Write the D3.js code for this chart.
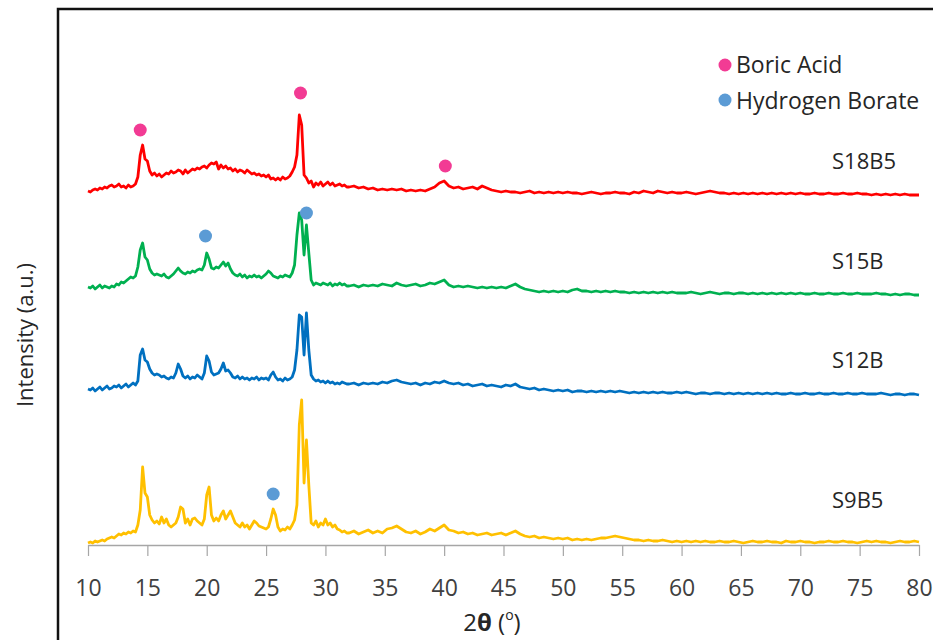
<!DOCTYPE html>
<html>
<head>
<meta charset="utf-8">
<script src="https://cdn.jsdelivr.net/npm/d3@7"></script>
<style>
    body { margin: 0; background: #fff; }
    svg { display: block; font-family: "Open Sans", "Noto Sans", sans-serif; }
</style>
</head>
<body>
<svg></svg>
<script>
    // 2theta sampling: 0.2 deg steps up to 31.8, then 0.4 deg steps to 80
    var lowAngle = d3.range(110).map(function (i) { return 10 + i * 0.2; });
    var highAngle = d3.range(121).map(function (i) { return 32 + i * 0.4; });
    var twoTheta = lowAngle.concat(highAngle);

    var xTicks = [10, 15, 20, 25, 30, 35, 40, 45, 50, 55, 60, 65, 70, 75, 80];
    var sampleNames = ["S9B5", "S12B", "S15B", "S18B5"];
    var sampleOffsets = [0, 150, 250, 350];
    var sampleColors = ["#FFC000", "#0070C0", "#00B050", "#FF0000"];

    var s9b5 = [
        2, 3, 2, 4, 3,   4, 5, 4, 6, 7,   8, 7, 9, 11, 10,   12, 11, 13, 12, 14,
        13, 20, 35, 78, 52,   48, 30, 25, 22, 24,   21, 28, 22, 26, 20,   18, 20, 22, 28, 38,
        36, 22, 26, 20, 26,   27, 24, 22, 20, 26,   50, 58, 30, 24, 27,   24, 30, 34, 26, 30,
        34, 28, 22, 20, 18,   22, 18, 20, 16, 20,   24, 22, 19, 18, 17,   16, 18, 26, 36, 30,
        18, 14, 16, 15, 18,   16, 20, 25, 40, 120,  145, 62, 105, 60, 22,  20, 24, 18, 22, 20,
        26, 20, 22, 18, 20,   16, 15, 13, 14, 12,
        12, 14, 11, 13, 15,   12, 14, 12, 16, 17,   19, 16, 13, 12, 14,   11, 13, 16, 14, 17,
        20, 15, 14, 12, 13,   11, 12, 10, 11, 12,   10, 11, 12, 10, 12,   14, 11, 9, 8, 9,
        7, 8, 7, 6, 7,   6, 7, 5, 6, 5,   6, 5, 6, 7, 7,   8, 9, 8, 7, 6,
        5, 5, 4, 5, 4,   4, 5, 4, 3, 4,   3, 4, 3, 4, 3,   4, 3, 3, 4, 3,
        3, 4, 3, 2, 3,   4, 3, 3, 4, 3,   3, 2, 4, 3, 3,   4, 3, 3, 2, 3,
        3, 4, 3, 3, 4,   3, 3, 2, 3, 4,   3, 4, 3, 3, 2,   3, 4, 3, 3, 4,
        3
    ];
    var s12b = [
        6, 5, 7, 4, 6,   8, 5, 7, 9, 6,   7, 9, 8, 10, 7,   9, 11, 8, 10, 12,
        10, 14, 40, 46, 35,   33, 26, 22, 20, 21,   20, 18, 19, 17, 16,   18, 17, 22, 31, 26,
        19, 17, 19, 16, 18,   17, 20, 18, 16, 22,   39, 34, 23, 20, 21,   22, 26, 32, 24, 25,
        22, 18, 17, 19, 16,   18, 16, 17, 15, 17,   16, 18, 15, 17, 16,   17, 15, 20, 23, 18,
        15, 16, 14, 17, 15,   16, 18, 25, 45, 80,   78, 40, 82, 45, 20,   16, 14, 15, 13, 14,
        12, 14, 12, 13, 11,   12, 11, 13, 12, 11,
        11, 12, 10, 12, 11,   12, 11, 13, 12, 14,   15, 13, 12, 11, 12,   10, 12, 11, 13, 12,
        14, 12, 11, 12, 10,   11, 9, 10, 11, 9,   10, 9, 8, 10, 9,   11, 8, 7, 6, 7,
        5, 6, 5, 4, 5,   4, 5, 3, 4, 4,   3, 4, 3, 4, 3,   4, 3, 4, 3, 2,
        3, 2, 3, 2, 3,   2, 3, 2, 2, 3,   2, 3, 2, 1, 2,   2, 1, 2, 2, 1,
        2, 1, 2, 1, 2,   1, 2, 1, 2, 1,   2, 1, 1, 2, 1,   1, 2, 1, 1, 2,
        1, 1, 2, 1, 1,   2, 1, 1, 2, 1,   1, 1, 2, 1, 0,   1, 1, 0, 1, 1,
        0
    ];
    var s15b = [
        8, 7, 9, 6, 8,   10, 7, 9, 8, 7,   9, 8, 11, 10, 13,   12, 14, 16, 18, 17,
        19, 28, 45, 52, 38,   35, 26, 22, 20, 21,   20, 19, 21, 18, 17,   19, 21, 24, 27, 24,
        22, 21, 23, 22, 24,   23, 25, 26, 25, 30,   42, 36, 27, 26, 28,   27, 30, 33, 29, 32,
        26, 22, 20, 19, 21,   18, 20, 17, 19, 18,   20, 18, 19, 17, 19,   21, 24, 22, 19, 18,
        17, 19, 18, 20, 19,   18, 22, 30, 60, 82,   75, 40, 70, 42, 15,   10, 12, 11, 10, 12,
        11, 10, 12, 9, 11,   10, 12, 10, 11, 9,
        9, 10, 8, 10, 9,   10, 9, 11, 10, 9,   12, 10, 9, 10, 11,   9, 10, 12, 11, 13,
        15, 10, 8, 9, 8,   9, 8, 7, 8, 7,   8, 7, 8, 7, 9,   11, 8, 6, 5, 4,
        3, 4, 3, 4, 3,   4, 3, 5, 6, 4,   4, 3, 4, 3, 4,   3, 4, 3, 3, 2,
        3, 2, 3, 2, 3,   2, 3, 2, 3, 2,   2, 2, 3, 2, 1,   2, 3, 2, 1, 2,
        2, 1, 2, 2, 1,   2, 1, 2, 1, 2,   1, 2, 1, 2, 1,   2, 1, 1, 2, 1,
        1, 2, 1, 1, 2,   1, 1, 2, 1, 1,   1, 2, 1, 1, 0,   1, 0, 1, 1, 0,
        0
    ];
    var s18b5 = [
        4, 3, 5, 6, 5,   7, 6, 8, 7, 9,   10, 8, 9, 11, 8,   9, 7, 10, 8, 9,
        11, 18, 40, 50, 36,   34, 24, 20, 22, 19,   21, 18, 20, 22, 21,   24, 22, 23, 25, 24,
        21, 25, 22, 24, 26,   25, 27, 26, 28, 29,   27, 30, 32, 31, 33,   26, 30, 27, 29, 26,
        27, 24, 26, 23, 25,   24, 22, 25, 23, 21,   22, 20, 21, 19, 20,   18, 20, 16, 17, 15,
        17, 15, 18, 16, 17,   19, 23, 28, 40, 80,   70, 20, 17, 12, 14,   8, 12, 10, 13, 9,
        11, 13, 10, 12, 9,   10, 11, 9, 10, 8,
        8, 9, 7, 8, 6,   7, 5, 6, 5, 6,   5, 6, 4, 5, 4,   5, 4, 6, 8, 12,
        14, 9, 7, 8, 6,   7, 8, 6, 9, 7,   5, 4, 3, 4, 3,   3, 2, 3, 4, 2,
        3, 2, 3, 2, 3,   2, 3, 2, 2, 1,   2, 3, 2, 1, 2,   2, 3, 2, 2, 1,
        3, 2, 4, 3, 2,   4, 3, 2, 3, 2,   2, 3, 2, 1, 2,   3, 4, 3, 2, 2,
        1, 2, 1, 2, 1,   2, 1, 2, 1, 2,   1, 2, 1, 2, 1,   2, 1, 1, 2, 1,
        1, 2, 1, 1, 2,   1, 1, 2, 1, 1,   0, 1, 0, 1, 0,   1, 0, 1, 0, 0,
        0
    ];
    var sampleValues = [s9b5, s12b, s15b, s18b5];

    // phase markers: [2theta, height above the sample baseline, sample index]
    var boricAcidPeaks = [[14.4, 65, 3], [27.9, 102, 3], [40.1, 29, 3]];
    var hydrogenBoratePeaks = [[19.9, 59, 2], [28.4, 82, 2], [25.6, 51, 0]];

    var w = 933,
        h = 640;
    var svg = d3.select("svg").attr("width", w).attr("height", h);

    var x = d3.scaleLinear().domain([10, 80]).range([88, 919]);
    var y = d3.scaleLinear().domain([0, 536]).range([545, 9]);

    sampleValues.forEach(function (vals, k) {
        if (vals.length !== twoTheta.length) console.error(sampleNames[k], vals.length, twoTheta.length);
    });

    // outer frame (cut off at the right and bottom)
    svg.append("path")
        .attr("d", "M58,650V9H945")
        .attr("fill", "none")
        .attr("stroke", "#111")
        .attr("stroke-width", 2.5);

    // x axis
    var xAxis = svg.append("g")
        .attr("transform", "translate(0,545)")
        .call(d3.axisBottom(x).tickValues(xTicks).tickSize(11).tickPadding(24).tickSizeOuter(0));
    xAxis.select(".domain").attr("stroke", "#a6a6a6").attr("stroke-width", 1.5);
    xAxis.selectAll(".tick line").attr("stroke", "#a6a6a6").attr("stroke-width", 1.2);
    xAxis.selectAll(".tick text")
        .attr("fill", "#404040")
        .style("font-size", "23px")
        .style("font-family", "'Open Sans', sans-serif");

    var line = d3.line()
        .x(function (d) { return x(d[0]); })
        .y(function (d) { return y(d[1]); });

    sampleValues.forEach(function (vals, k) {
        var pts = twoTheta.map(function (t, i) { return [t, vals[i] + sampleOffsets[k]]; });
        svg.append("path")
            .datum(pts)
            .attr("fill", "none")
            .attr("stroke", sampleColors[k])
            .attr("stroke-width", 2.8)
            .attr("stroke-linejoin", "round")
            .attr("d", line);
    });

    var markerColors = { boric: "#F23B94", borate: "#5B9BD5" };

    function drawMarkers(peaks, color) {
        svg.append("g").selectAll("circle")
            .data(peaks)
            .enter().append("circle")
            .attr("cx", function (d) { return x(d[0]); })
            .attr("cy", function (d) { return y(d[1] + sampleOffsets[d[2]]); })
            .attr("r", 6.5)
            .attr("fill", color);
    }
    drawMarkers(boricAcidPeaks, markerColors.boric);
    drawMarkers(hydrogenBoratePeaks, markerColors.borate);

    // sample labels
    var labelBaselines = [508, 368, 269, 169];
    sampleNames.forEach(function (name, k) {
        svg.append("text")
            .attr("x", 832)
            .attr("y", labelBaselines[k])
            .attr("fill", "#262626")
            .style("font-size", "22px")
            .text(name);
    });

    // legend
    var legendItems = [["Boric Acid", markerColors.boric], ["Hydrogen Borate", markerColors.borate]];
    var legend = svg.append("g");
    legendItems.forEach(function (it, i) {
        legend.append("circle")
            .attr("cx", 725)
            .attr("cy", 65 + i * 35)
            .attr("r", 6.5)
            .attr("fill", it[1]);
        legend.append("text")
            .attr("x", 736)
            .attr("y", 73 + i * 36)
            .attr("fill", "#262626")
            .style("font-size", "23px")
            .text(it[0]);
    });

    // axis titles
    var xTitle = svg.append("text")
        .attr("x", 492)
        .attr("y", 631)
        .attr("text-anchor", "middle")
        .attr("fill", "#262626")
        .style("font-size", "24px");
    xTitle.append("tspan").text("2");
    xTitle.append("tspan").style("font-weight", "bold").text("θ");
    xTitle.append("tspan").text(" (");
    xTitle.append("tspan").attr("dy", -11).style("font-size", "14px").text("o");
    xTitle.append("tspan").attr("dy", 11).text(")");

    svg.append("text")
        .attr("transform", "translate(33,335) rotate(-90)")
        .attr("text-anchor", "middle")
        .attr("fill", "#262626")
        .style("font-size", "22px")
        .text("Intensity (a.u.)");
</script>
</body>
</html>
